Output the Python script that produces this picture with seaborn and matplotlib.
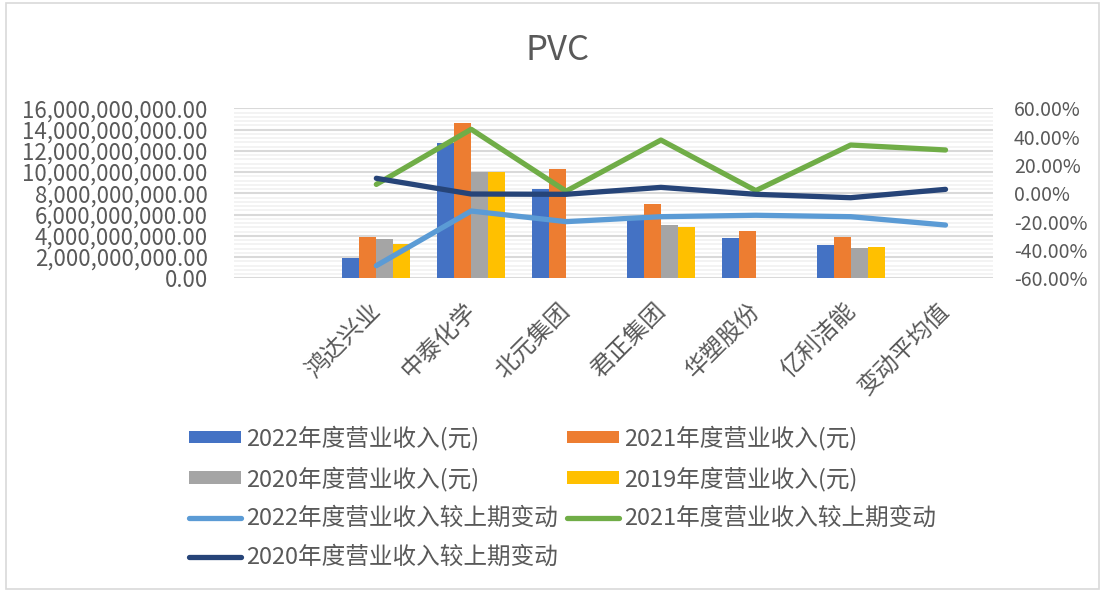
import numpy as np
import pandas as pd
import seaborn as sns
import matplotlib.pyplot as plt
from matplotlib.patches import Patch, Rectangle
from matplotlib.lines import Line2D
from matplotlib.ticker import FuncFormatter, MultipleLocator
from matplotlib.transforms import ScaledTranslation

# categories (first slot is empty in the source chart)
companies = ['', '鸿达兴业', '中泰化学', '北元集团', '君正集团', '华塑股份', '亿利洁能', '变动平均值']

# revenue (yuan)
rev_2022 = [np.nan, 1.91e9, 12.76e9, 8.37e9, 5.6e9, 3.83e9, 3.17e9, np.nan]
rev_2021 = [np.nan, 3.92e9, 14.65e9, 10.32e9, 6.99e9, 4.48e9, 3.86e9, np.nan]
rev_2020 = [np.nan, 3.67e9, 10.04e9, np.nan, 5.05e9, np.nan, 2.82e9, np.nan]
rev_2019 = [np.nan, 3.26e9, 10.00e9, np.nan, 4.83e9, np.nan, 2.95e9, np.nan]

# change vs previous period
chg_2022 = [np.nan, -0.511, -0.125, -0.200, -0.165, -0.155, -0.165, -0.224]
chg_2021 = [np.nan, 0.063, 0.452, 0.015, 0.376, 0.019, 0.341, 0.306]
chg_2020 = [np.nan, 0.106, -0.005, -0.007, 0.042, -0.007, -0.031, 0.028]

bar_names = ['2022年度营业收入(元)', '2021年度营业收入(元)', '2020年度营业收入(元)', '2019年度营业收入(元)']
line_names = ['2022年度营业收入较上期变动', '2021年度营业收入较上期变动', '2020年度营业收入较上期变动']
bar_colors = ['#4472C4', '#ED7D31', '#A5A5A5', '#FFC000']
line_colors = ['#5B9BD5', '#70AD47', '#264478']

# long format tables
bars = pd.DataFrame({'company': companies * 4,
                     'series': np.repeat(bar_names, len(companies)),
                     'value': rev_2022 + rev_2021 + rev_2020 + rev_2019}).dropna()
lines = pd.DataFrame({'company': companies * 3,
                      'series': np.repeat(line_names, len(companies)),
                      'value': chg_2022 + chg_2021 + chg_2020}).dropna()

sns.set_theme(style='white')
plt.rcParams['font.family'] = ['Noto Sans CJK SC', 'DejaVu Sans']
text_color = '#595959'

fig = plt.figure(figsize=(11.05, 5.92), dpi=100)
ax = fig.add_axes([0.2118, 0.5299, 0.6868, 0.2871])

sns.barplot(data=bars, x='company', y='value', hue='series', order=companies,
            hue_order=bar_names, palette=bar_colors, saturation=1, width=0.72, gap=0,
            errorbar=None, linewidth=0, legend=False, ax=ax)

ax.set_ylim(0, 16e9)
ax.yaxis.set_major_locator(MultipleLocator(2e9))
ax.yaxis.set_minor_locator(MultipleLocator(0.4e9))
ax.yaxis.set_major_formatter(FuncFormatter(lambda v, p: f'{v:,.2f}'))
ax.grid(axis='y', which='major', color='#d9d9d9', linewidth=1.5)
ax.grid(axis='y', which='minor', color='#f2f2f2', linewidth=1.3)
ax.set_axisbelow(True)

ax2 = ax.twinx()
sns.pointplot(data=lines, x='company', y='value', hue='series', order=companies,
              hue_order=line_names, palette=line_colors, markers='', linestyles='-',
              errorbar=None, linewidth=3.8, legend=False, ax=ax2,
              solid_capstyle='round', solid_joinstyle='round')
ax2.set_ylim(-0.6, 0.6)
ax2.yaxis.set_major_locator(MultipleLocator(0.2))
ax2.yaxis.set_major_formatter(FuncFormatter(lambda v, p: f'{v * 100:.2f}%'))
ax2.grid(False)

ax.set_xlim(-0.5, len(companies) - 0.5)
ax.set_xticks(range(len(companies)))
ax.set_xticklabels(companies, rotation=45, ha='right', va='center', rotation_mode='anchor')
ax.set_xlabel('')
ax.set_ylabel('')
ax2.set_ylabel('')
ax2.set_xlabel('')

for a in (ax, ax2):
    for s in a.spines.values():
        s.set_visible(False)
    a.tick_params(length=0, which='both', labelcolor=text_color)
ax.tick_params(axis='y', pad=19, labelsize=16)
ax.tick_params(axis='x', pad=21, labelsize=17)
ax2.tick_params(axis='y', pad=15, labelsize=14)
shift = ScaledTranslation(1 / 100, 0, fig.dpi_scale_trans)
for lab in ax.get_xticklabels():
    lab.set_transform(lab.get_transform() + shift)

fig.text(0.505, 0.915, 'PVC', ha='center', va='center', fontsize=25, color=text_color)

# legend, arranged row-wise like the source
bar_h = [Patch(facecolor=c, edgecolor='none') for c in bar_colors]
line_h = [Line2D([], [], color=c, linewidth=3.8, solid_capstyle='round') for c in line_colors]
handles = [bar_h[0], bar_h[2], line_h[0], line_h[2], bar_h[1], bar_h[3], line_h[1]]
labels = [bar_names[0], bar_names[2], line_names[0], line_names[2], bar_names[1], bar_names[3], line_names[1]]
leg = fig.legend(handles, labels, ncol=2, loc='center', bbox_to_anchor=(0.509, 0.16),
                 frameon=False, fontsize=17, handlelength=2.2, handleheight=0.45,
                 handletextpad=0.2, columnspacing=0.4, labelspacing=0.67)
for t in leg.get_texts():
    t.set_color(text_color)

# chart border
fig.patches.append(Rectangle((0.005, 0.005), 0.99, 0.99, transform=fig.transFigure,
                             fill=False, edgecolor='#d9d9d9', linewidth=1.2))

fig.savefig('out.png', dpi=100)
